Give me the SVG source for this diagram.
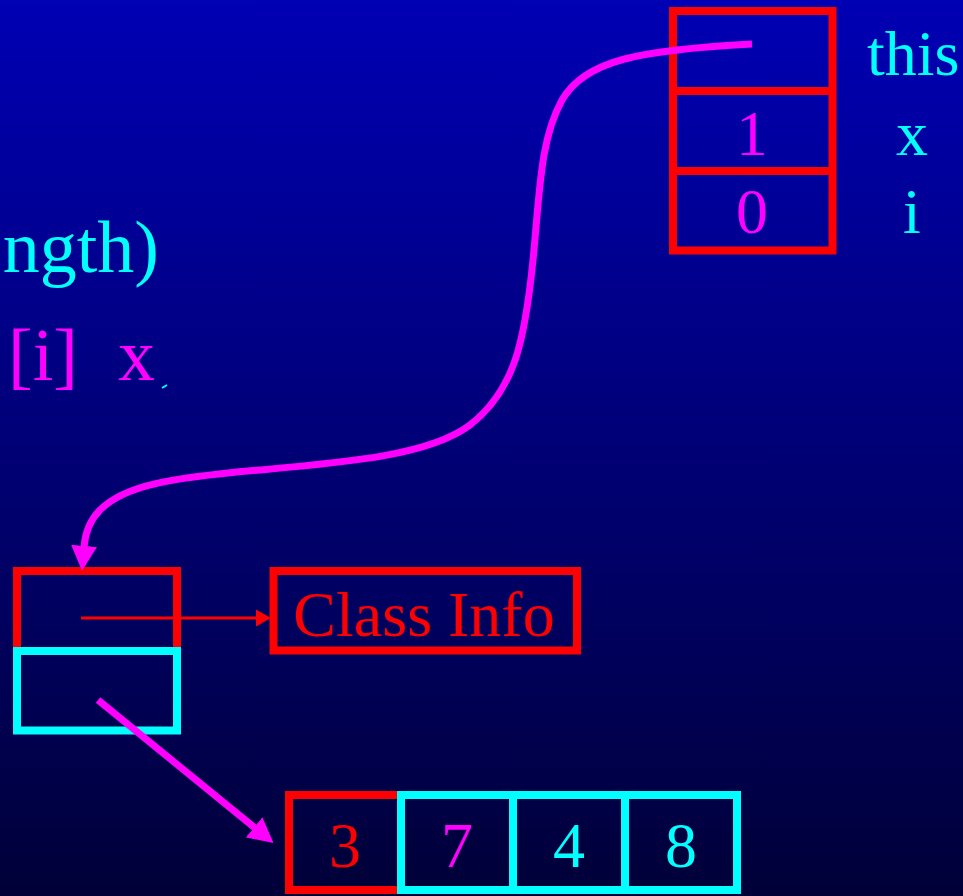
<svg xmlns="http://www.w3.org/2000/svg" width="963" height="896" viewBox="0 0 963 896">
  <defs>
    <linearGradient id="bg" x1="0" y1="0" x2="0" y2="1">
      <stop offset="0" stop-color="#0000B4"/>
      <stop offset="1" stop-color="#000038"/>
    </linearGradient>
    <marker id="mag" markerUnits="userSpaceOnUse" markerWidth="26" markerHeight="26" refX="1" refY="12" orient="auto" viewBox="0 0 24 24">
      <polygon points="0,0 23,12 0,24" fill="#FF00FF"/>
    </marker>
    <marker id="red" markerUnits="userSpaceOnUse" markerWidth="16" markerHeight="18" refX="1" refY="8" orient="auto" viewBox="0 0 15 16">
      <polygon points="0,0 14,8 0,16" fill="#FF0000"/>
    </marker>
  </defs>
  <style>
    text { font-family: "Liberation Serif", "Times New Roman", serif; }
    .big { font-size: 64px; }
    .code { font-size: 74px; }
    .c { text-anchor: middle; }
    .cy { fill: #00FFFF; }
    .mg { fill: #FF00FF; }
    .rd { fill: #FF0000; }
    .rbox { fill: none; stroke: #FF0000; stroke-width: 8; }
    .cbox { fill: none; stroke: #00FFFF; stroke-width: 8; }
    .mline { fill: none; stroke: #FF00FF; stroke-width: 7; }
  </style>
  <rect x="0" y="0" width="963" height="896" fill="url(#bg)"/>

  <g id="code-text">
    <text class="code cy" x="159" y="272" text-anchor="end">ngth)</text>
    <text class="code mg" x="8" y="380">[i]</text>
    <text class="code mg" x="118" y="380">x</text>
    <line x1="162" y1="388" x2="167" y2="385" stroke="#00FFFF" stroke-width="2"/>
  </g>

  <g id="frame">
    <rect class="rbox" x="673" y="11" width="159.5" height="239.5"/>
    <line x1="673" y1="91" x2="832.5" y2="91" stroke="#FF0000" stroke-width="8"/>
    <line x1="673" y1="171" x2="832.5" y2="171" stroke="#FF0000" stroke-width="8"/>
    <text class="big mg c" x="752" y="155">1</text>
    <text class="big mg c" x="752" y="233">0</text>
    <text class="big cy" x="867" y="75">this</text>
    <text class="big cy c" x="912" y="155">x</text>
    <text class="big cy c" x="912" y="233">i</text>
  </g>

  <g id="object">
    <rect class="rbox" x="17" y="571" width="160" height="80"/>
    <rect class="cbox" x="17" y="651" width="160" height="79.5"/>
  </g>

  <g id="class-info">
    <rect class="rbox" x="273.5" y="571" width="303.5" height="79.5"/>
    <text class="big rd c" x="424" y="636">Class Info</text>
  </g>

  <g id="array">
    <rect class="rbox" x="289" y="795" width="112" height="95"/>
    <rect class="cbox" x="401" y="795" width="336" height="95"/>
    <line x1="513" y1="795" x2="513" y2="890" stroke="#00FFFF" stroke-width="8"/>
    <line x1="625" y1="795" x2="625" y2="890" stroke="#00FFFF" stroke-width="8"/>
    <text class="big rd c" x="345" y="867">3</text>
    <text class="big mg c" x="457" y="867">7</text>
    <text class="big cy c" x="569" y="867">4</text>
    <text class="big cy c" x="681" y="867">8</text>
  </g>

  <g id="connectors">
    <path class="mline" d="M752,44 C640,50 585,60 562,100 C540,140 540,190 533,260 C525,340 515,390 470,425 C430,455 350,462 260,470 C170,478 125,485 100,510 C88,522 85,535 84,547" marker-end="url(#mag)"/>
    <line x1="81" y1="618" x2="257" y2="618" stroke="#FF0000" stroke-width="3" marker-end="url(#red)"/>
    <line class="mline" x1="98" y1="700" x2="255" y2="828" marker-end="url(#mag)"/>
  </g>
</svg>
